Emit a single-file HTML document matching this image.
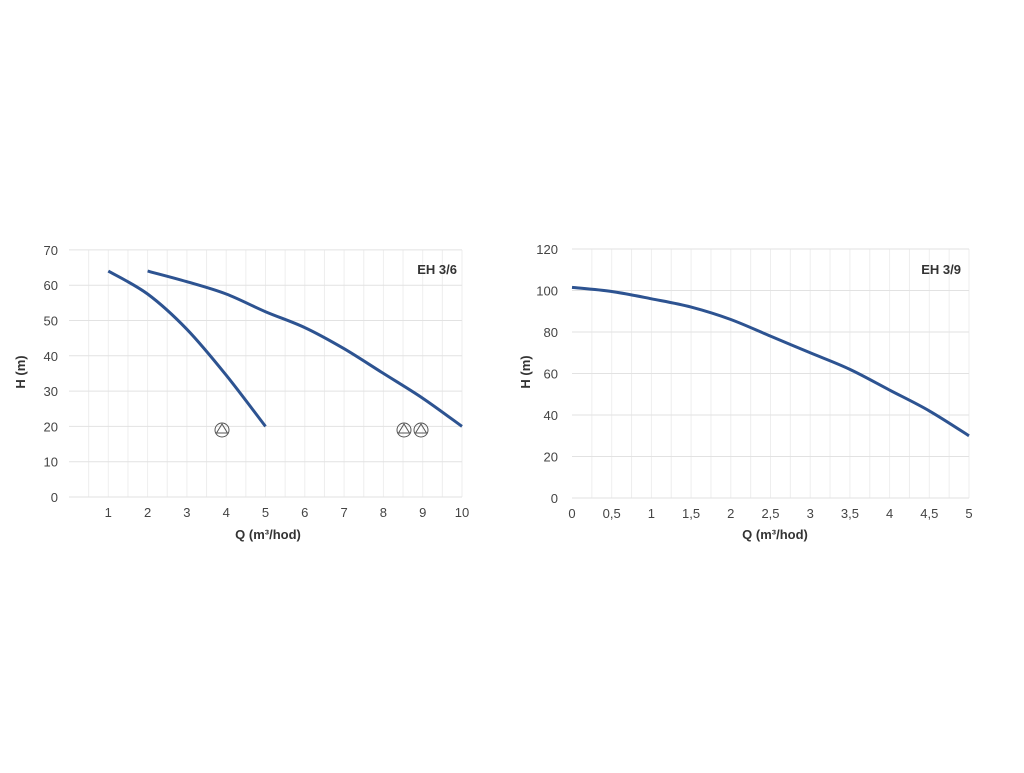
<!DOCTYPE html><html><head><style>body{margin:0;background:#fff}svg{font-family:"Liberation Sans",sans-serif}</style></head><body>
<svg id="s" width="1024" height="768" xmlns="http://www.w3.org/2000/svg"></svg>
<script>
const s=document.getElementById('s');let h='';
function L(x1,y1,x2,y2,c,w){h+=`<line x1="${x1}" y1="${y1}" x2="${x2}" y2="${y2}" stroke="${c}" stroke-width="${w}"/>`}
function T(x,y,t,a,extra){h+=`<text x="${x}" y="${y}" text-anchor="${a||'middle'}" ${extra||'font-size="13" fill="#444"'}>${t}</text>`}
function curve(pts,fx,fy){const P=pts.map(p=>[fx(p[0]),fy(p[1])]);let d='M'+P[0][0].toFixed(1)+' '+P[0][1].toFixed(1);
for(let i=0;i<P.length-1;i++){const p0=P[Math.max(i-1,0)],p1=P[i],p2=P[i+1],p3=P[Math.min(i+2,P.length-1)];
const c1=[p1[0]+(p2[0]-p0[0])/6,p1[1]+(p2[1]-p0[1])/6],c2=[p2[0]-(p3[0]-p1[0])/6,p2[1]-(p3[1]-p1[1])/6];
d+=`C${c1[0].toFixed(1)} ${c1[1].toFixed(1)} ${c2[0].toFixed(1)} ${c2[1].toFixed(1)} ${p2[0].toFixed(1)} ${p2[1].toFixed(1)}`}
h+=`<path d="${d}" fill="none" stroke="#2d5391" stroke-width="3" stroke-linejoin="round"/>`}
// left
{const fx=v=>69+v*39.3,fy=v=>497-v*3.53;
for(let v=0.5;v<=10;v+=0.5)L(fx(v),250,fx(v),497,'#eeeeee',1);
for(let v=0;v<=70;v+=10){L(69,fy(v),462,fy(v),'#e2e2e2',1);T(58,fy(v)+5,v,'end')}
for(let v=1;v<=10;v++)T(fx(v),517,v);
T(268,539,'Q (m³/hod)','middle','font-size="13" font-weight="bold" fill="#333"');
h+=`<text transform="translate(25,372) rotate(-90)" text-anchor="middle" font-size="13" font-weight="bold" fill="#333">H (m)</text>`;
T(457,274,'EH 3/6','end','font-size="13" font-weight="bold" fill="#333"');
curve([[1,64],[2,57.5],[3,47.5],[4,34.5],[5,20]],fx,fy);
curve([[2,64],[3,61],[4,57.5],[5,52.5],[6,48],[7,42],[8,35],[9,28],[10,20]],fx,fy);
[222,404,421].forEach(x=>{h+=`<circle cx="${x}" cy="430" r="7" fill="none" stroke="#555" stroke-width="1"/><polygon points="${x},424 ${x-5.5},433 ${x+5.5},433" fill="none" stroke="#555" stroke-width="1"/>`});}
// right
{const fx=v=>572+v*79.4,fy=v=>498-v*2.075;
for(let v=0.25;v<=5;v+=0.25)L(fx(v),249,fx(v),498,'#eeeeee',1);
for(let v=0;v<=120;v+=20){L(572,fy(v),969,fy(v),'#e2e2e2',1);T(558,fy(v)+5,v,'end')}
for(let v=0;v<=5;v+=0.5)T(fx(v),518,String(v).replace('.',','));
T(775,539,'Q (m³/hod)','middle','font-size="13" font-weight="bold" fill="#333"');
h+=`<text transform="translate(530,372) rotate(-90)" text-anchor="middle" font-size="13" font-weight="bold" fill="#333">H (m)</text>`;
T(961,274,'EH 3/9','end','font-size="13" font-weight="bold" fill="#333"');
curve([[0,101.5],[0.5,99.5],[1,96],[1.5,92],[2,86],[2.5,78],[3,70],[3.5,62],[4,52],[4.5,42],[5,30]],fx,fy);}
s.innerHTML=h;
</script></body></html>
